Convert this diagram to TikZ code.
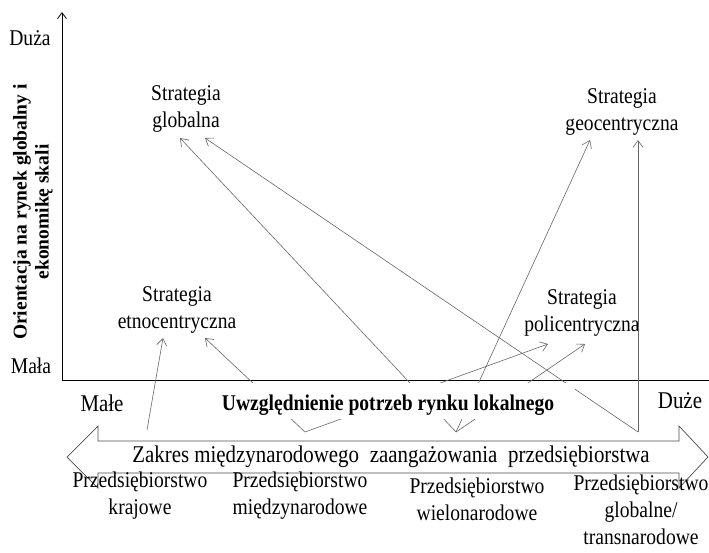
\documentclass[tikz,border=0pt]{standalone}
\usepackage{fontspec}
\setmainfont{Liberation Serif}[FakeStretch=0.87]
\newfontfamily\plainserif{Liberation Serif}
\usetikzlibrary{arrows.meta}
\begin{document}
\begin{tikzpicture}[x=1pt,y=-1pt,
  txt/.style={font=\fontsize{22.5}{27}\selectfont, align=center, inner sep=0pt},
  btxt/.style={font=\fontsize{22.5}{27}\selectfont\bfseries, align=center, inner sep=0pt},
  axis/.style={draw=black, line width=0.8pt},
  conn/.style={draw=black!60, line width=0.6pt, -{Straight Barb[length=7pt,width=10pt]}},
  bigarrow/.style={draw=black!70, line width=0.7pt, fill=white}
]
\useasboundingbox (0,0) rectangle (709,552);

% axes
\coordinate (O) at (62,380);
\coordinate (Ytop) at (62,12);
\coordinate (Xend) at (709,380);
\draw[axis, -{Straight Barb[length=6pt,width=9pt]}] (O) -- (Ytop);
\draw[axis] (O) -- (Xend);

\node[txt] (duza) at (30,38) {Duża};
\node[txt] (mala) at (31,366) {Mała};
\node[rotate=90, align=center, inner sep=0pt, font=\plainserif\fontsize{19.5}{22}\selectfont\bfseries] (ylab) at (33,212) {Orientacja na rynek globalny i\\ekonomikę skali};

% strategies
\node[txt] (glob) at (186,109) {Strategia\\globalna};
\node[txt] (geo) at (622,112) {Strategia\\geocentryczna};
\node[txt] (etno) at (177,310) {Strategia\\etnocentryczna};
\node[txt] (poli) at (582,313) {Strategia\\policentryczna};

% connector endpoints
\coordinate (kr) at (147,430);
\coordinate (v1) at (305,432);
\coordinate (v2) at (456,432);
\coordinate (v3) at (638,432);
\coordinate (etL) at (163,338);
\coordinate (etR) at (205,338);
\coordinate (poL) at (548,344);
\coordinate (poR) at (585,344);
\coordinate (glL) at (180,138);
\coordinate (glR) at (205,138);
\coordinate (geL) at (590,140);
\coordinate (geR) at (638,140);

\draw[conn] (kr) -- (etL);
\draw[conn] (v1) -- (etR);
\draw[conn] (v1) -- (poL);
\draw[conn] (v2) -- (glL);
\draw[conn] (v2) -- (geL);
\draw[conn] (v2) -- (poR);
\draw[conn] (v3) -- (glR);
\draw[conn] (v3) -- (geR);

% label with white background
\path[fill=white] (200,383) rectangle (575,419);
\node[btxt] (uwz) at (388,405) {Uwzględnienie potrzeb rynku lokalnego};
\node[txt, font=\fontsize{24}{27}\selectfont] (male) at (102,403) {Małe};
\node[txt, font=\fontsize{24}{27}\selectfont] (duze) at (680,401) {Duże};

% double arrow
\draw[bigarrow] (67,457) -- (98,426) -- (98,441) -- (679,441) -- (679,426) -- (708,457)
  -- (679,488) -- (679,473) -- (98,473) -- (98,488) -- cycle;
\node[txt, font=\fontsize{24}{27}\selectfont] (zakres) at (391,457) {Zakres międzynarodowego\hspace{0.45em}zaangażowania\hspace{0.45em}przedsiębiorstwa};

% enterprises
\node[txt] (pkraj) at (140,496) {Przedsiębiorstwo\\krajowe};
\node[txt] (pmiedz) at (300,496) {Przedsiębiorstwo\\międzynarodowe};
\node[txt] (pwielo) at (477,499) {Przedsiębiorstwo\\wielonarodowe};
\node[txt] (pglob) at (641,510) {Przedsiębiorstwo\\globalne/\\transnarodowe};
\end{tikzpicture}
\end{document}
